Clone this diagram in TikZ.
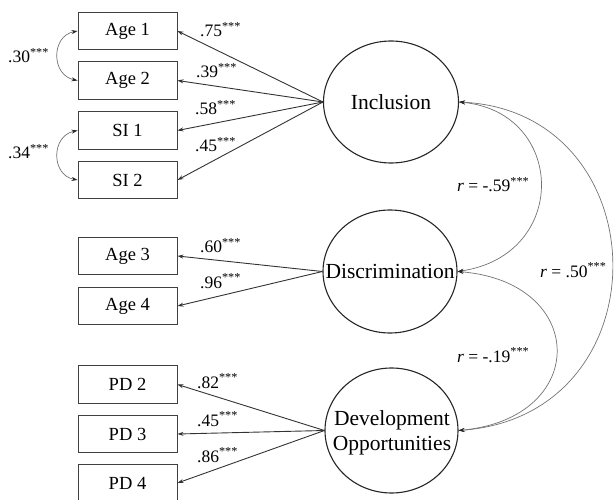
\documentclass[tikz,border=0pt]{standalone}
\usepackage{fontspec}
\setmainfont{Liberation Serif}
\usetikzlibrary{arrows.meta,shapes.geometric}
\begin{document}
\begin{tikzpicture}[x=1pt,y=-1pt,
  obs/.style={draw=black!75,line width=0.9pt,rectangle,minimum width=99pt,minimum height=37.5pt,inner sep=0pt,font=\fontsize{18.5}{20}\selectfont},
  latent/.style={draw=black!85,line width=1.1pt,ellipse,inner sep=0pt},
  lattext/.style={font=\fontsize{21.5}{25}\selectfont,align=center},
  load/.style={draw=black!80,line width=0.9pt,-{Stealth[length=6pt,width=4pt]}},
  cov/.style={draw=black!55,line width=0.7pt,{Stealth[length=6pt,width=4pt,black!85]}-{Stealth[length=6pt,width=4pt,black!85]}},
  lab/.style={anchor=base west,inner sep=0pt,font=\fontsize{17.5}{20}\selectfont}
]
\useasboundingbox (0,0) rectangle (614,500);
% observed
\node[obs] (a1) at (127.5,31) {Age 1};
\node[obs] (a2) at (127.5,80.5) {Age 2};
\node[obs] (s1) at (127.5,130.5) {SI 1};
\node[obs] (s2) at (127.5,180) {SI 2};
\node[obs] (a3) at (127.5,256) {Age 3};
\node[obs] (a4) at (127.5,306) {Age 4};
\node[obs] (p2) at (127.5,384.5) {PD 2};
\node[obs] (p3) at (127.5,434) {PD 3};
\node[obs] (p4) at (127.5,483) {PD 4};
% latent
\node[latent,minimum width=135pt,minimum height=122pt] (inc) at (391,102) {};
\node[lattext] (inct) at (inc.center) {Inclusion};
\node[latent,minimum width=134pt,minimum height=123pt] (dis) at (390,271.5) {};
\node[lattext] (dist) at (dis.center) {Discrimination};
\node[latent,minimum width=133pt,minimum height=125pt] (dev) at (391.5,430.5) {};
\node[lattext,inner sep=0pt] (devt) at (392,433) {Development\\Opportunities};
% loadings
\draw[load] (inc.west) -- (a1.east);
\draw[load] (inc.west) -- (a2.east);
\draw[load] (inc.west) -- (s1.east);
\draw[load] (inc.west) -- (s2.east);
\draw[load] (dis.west) -- (a3.east);
\draw[load] (dis.west) -- (a4.east);
\draw[load] (dev.west) -- (p2.east);
\draw[load] (dev.west) -- (p3.east);
\draw[load] (dev.west) -- (p4.east);
% loading labels
\node[lab] (l1) at (200,37) {.75\textsuperscript{***}};
\node[lab] (l2) at (196,78) {.39\textsuperscript{***}};
\node[lab] (l3) at (195,115) {.58\textsuperscript{***}};
\node[lab] (l4) at (195,152) {.45\textsuperscript{***}};
\node[lab] (l5) at (200,253) {.60\textsuperscript{***}};
\node[lab] (l6) at (200,288) {.96\textsuperscript{***}};
\node[lab] (l7) at (197,388) {.82\textsuperscript{***}};
\node[lab] (l8) at (197,426) {.45\textsuperscript{***}};
\node[lab] (l9) at (197,462) {.86\textsuperscript{***}};
% residual covariances
\draw[cov] (a1.west) .. controls (51,36) and (51,75) .. (a2.west);
\draw[cov] (s1.west) .. controls (51,136) and (51,175) .. (s2.west);
\node[lab] (c1) at (8,63) {.30\textsuperscript{***}};
\node[lab] (c2) at (8,159) {.34\textsuperscript{***}};
% factor correlations
\draw[cov] (inc.east) .. controls (566,112) and (570,255) .. (dis.east);
\draw[cov] (inc.east) .. controls (660,112) and (666,415) .. (dev.east);
\draw[cov] (dis.east) .. controls (588,282) and (590,418) .. (dev.east);
\node[lab] (r1) at (457,192) {\textit{r} = -.59\textsuperscript{***}};
\node[lab] (r2) at (540,277) {\textit{r} = .50\textsuperscript{***}};
\node[lab] (r3) at (457,362) {\textit{r} = -.19\textsuperscript{***}};
\end{tikzpicture}
\end{document}
